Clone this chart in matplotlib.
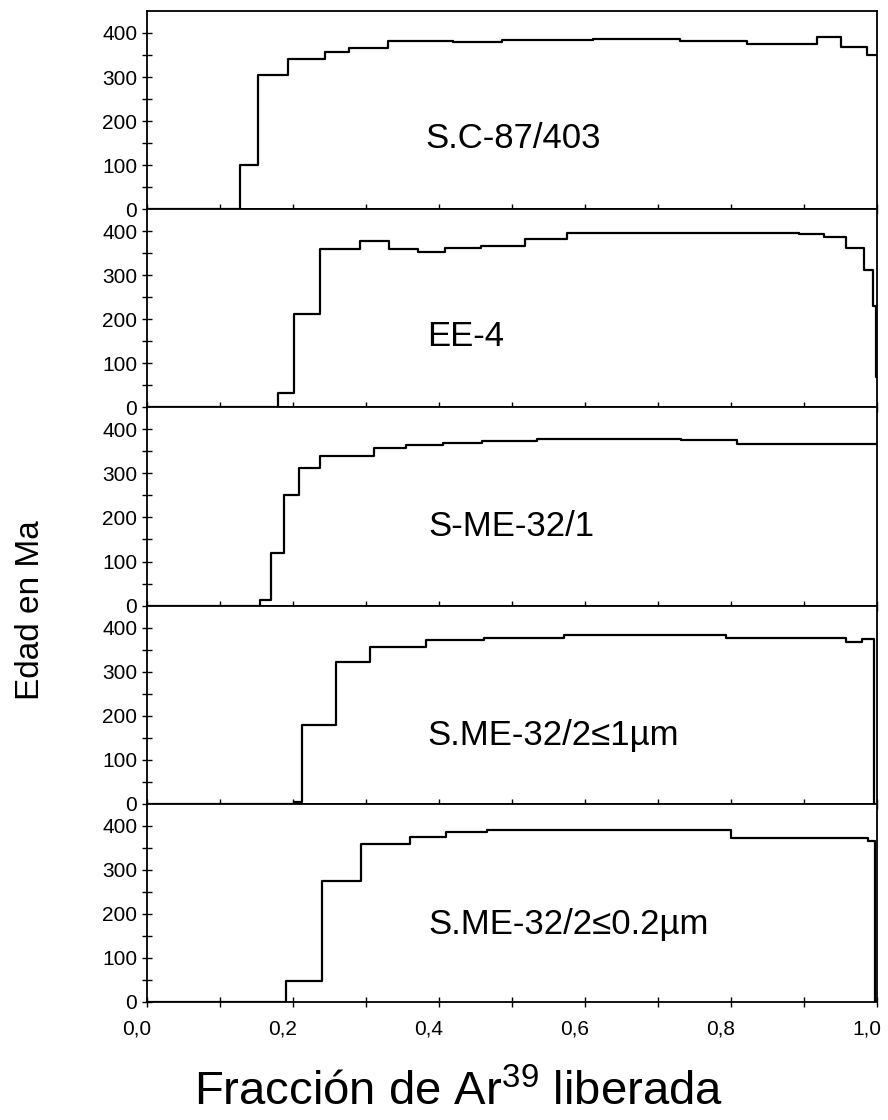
import numpy as np
import matplotlib
matplotlib.use("Agg")
import matplotlib.pyplot as plt
import matplotlib.transforms as mtrans
from matplotlib.ticker import MultipleLocator, FixedLocator

plt.rcParams['font.family'] = ['Liberation Sans', 'DejaVu Sans']
plt.rcParams['mathtext.fontset'] = 'custom'
plt.rcParams['mathtext.rm'] = 'Liberation Sans'
plt.rcParams['mathtext.default'] = 'regular'

# espectros de edad: inicio de cada escalon (fraccion Ar39) y edad (Ma)
muestras = ['S.C-87/403', 'EE-4', 'S-ME-32/1',
            'S.ME-32/2\u22641\u00b5m', 'S.ME-32/2\u22640.2\u00b5m']

frac1 = [0.0, 0.127, 0.152, 0.193, 0.244, 0.277, 0.330, 0.419, 0.486, 0.611,
         0.730, 0.822, 0.918, 0.951, 0.986, 1.0]
edad1 = [0, 100, 305, 342, 357, 366, 381, 379, 383, 386, 381, 376, 390, 368, 349]

frac2 = [0.0, 0.179, 0.201, 0.237, 0.292, 0.332, 0.371, 0.408, 0.458, 0.518,
         0.575, 0.893, 0.927, 0.958, 0.982, 0.994, 0.998, 1.0]
edad2 = [0, 33, 211, 359, 377, 360, 353, 362, 366, 383, 395, 394, 387, 362,
         313, 230, 68]

frac3 = [0.0, 0.155, 0.170, 0.188, 0.208, 0.237, 0.311, 0.355, 0.405, 0.459,
         0.534, 0.731, 0.808, 1.0]
edad3 = [0, 13, 120, 251, 313, 340, 358, 364, 368, 373, 379, 375, 366]

frac4 = [0.0, 0.201, 0.212, 0.259, 0.305, 0.382, 0.462, 0.571, 0.793, 0.958,
         0.979, 0.996, 1.0]
edad4 = [0, 5, 178, 322, 357, 372, 377, 383, 376, 368, 373, 0]

frac5 = [0.0, 0.190, 0.240, 0.293, 0.360, 0.410, 0.466, 0.800, 0.988, 0.997, 1.0]
edad5 = [0, 47, 274, 359, 375, 386, 390, 373, 365, 0]

fracs = [frac1, frac2, frac3, frac4, frac5]
edades = [edad1, edad2, edad3, edad4, edad5]
pos_txt = [(0.382, 160), (0.384, 160), (0.385, 180), (0.384, 156), (0.386, 176)]

fig, axs = plt.subplots(5, 1, figsize=(8.88, 11.2), dpi=100, sharex=True)
fig.subplots_adjust(left=0.1655, right=0.9876, top=0.9902, bottom=0.1054, hspace=0)

for i, ax in enumerate(axs):
    x = fracs[i]
    y = edades[i] + [edades[i][-1]]
    ax.step(x, y, where='post', color='black', lw=1.6)
    ax.set_xlim(0, 1.0)
    ax.set_ylim(0, 450)
    ax.yaxis.set_major_locator(FixedLocator([0, 100, 200, 300, 400]))
    ax.yaxis.set_minor_locator(FixedLocator([50, 150, 250, 350]))
    ax.xaxis.set_major_locator(MultipleLocator(0.2))
    ax.xaxis.set_minor_locator(MultipleLocator(0.1))
    ax.tick_params(which='both', direction='inout', length=7, width=1.0,
                   labelsize=15, top=False, right=False)
    ax.tick_params(axis='x', pad=9)
    for s in ax.spines.values():
        s.set_linewidth(1.3)
    ax.text(pos_txt[i][0], pos_txt[i][1], muestras[i], fontsize=25,
            ha='left', va='center')
    if i < 4:
        ax.tick_params(axis='x', labelbottom=False)

axs[-1].set_xticks([0.0, 0.2, 0.4, 0.6, 0.8, 1.0])
axs[-1].set_xticklabels(['0,0', '0,2', '0,4', '0,6', '0,8', '1,0'])
desplaza = mtrans.ScaledTranslation(-10 / 100, 0, fig.dpi_scale_trans)
for lab in axs[-1].get_xticklabels():
    lab.set_transform(lab.get_transform() + desplaza)

fig.text(0.034, 1 - 610 / 1120, 'Edad en Ma', rotation=90, fontsize=24,
         ha='center', va='center')
fig.text(0.516, 1 - 1093 / 1120, 'Fracción de Ar$^{39}$ liberada', fontsize=34,
         ha='center', va='center')

fig.savefig('out.png', dpi=100)
